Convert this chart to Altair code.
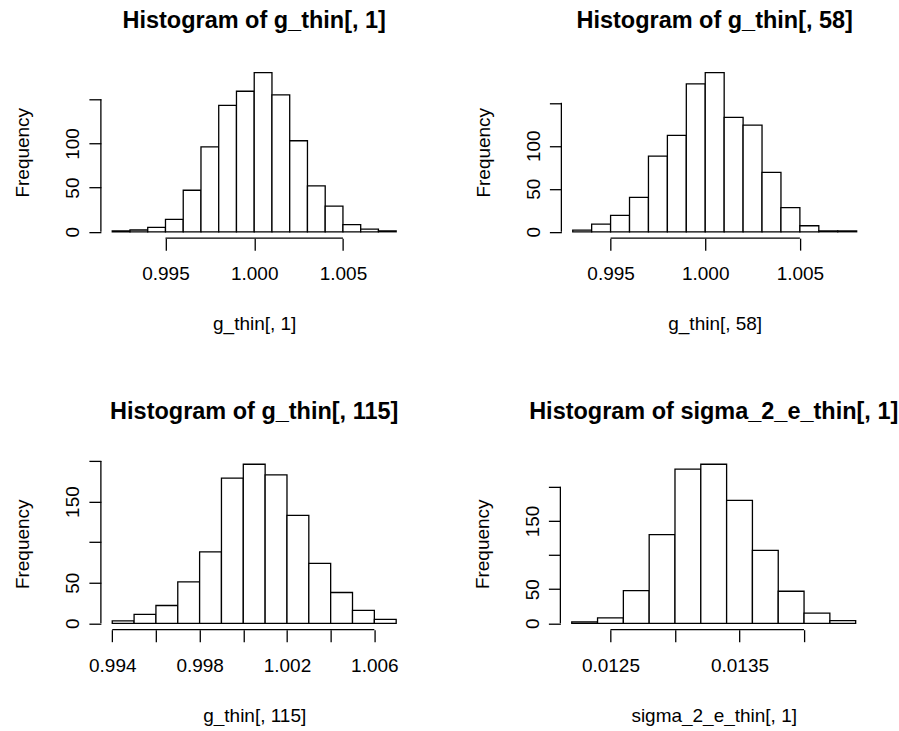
import altair as alt
import pandas as pd

FONT = "Liberation Sans"

# ---- data ----
p1_edges = [0.992, 0.993, 0.994, 0.995, 0.996, 0.997, 0.998, 0.999, 1.000,
            1.001, 1.002, 1.003, 1.004, 1.005, 1.006, 1.007, 1.008]
p1_counts = [1, 2, 5, 14, 47, 96, 143, 159, 180, 155, 103, 52, 29, 8, 3, 1]
p1_xticks = [0.995, 1.000, 1.005]
p1_xlabels = ["0.995", "1.000", "1.005"]
p1_yticks = [0, 50, 100, 150]
p1_ylabels = ["0", "50", "100"]

p2_edges = [0.993, 0.994, 0.995, 0.996, 0.997, 0.998, 0.999, 1.000,
            1.001, 1.002, 1.003, 1.004, 1.005, 1.006, 1.007, 1.008]
p2_counts = [2, 9, 19, 40, 88, 112, 172, 185, 133, 124, 69, 28, 7, 1, 1]
p2_xticks = [0.995, 1.000, 1.005]
p2_xlabels = ["0.995", "1.000", "1.005"]
p2_yticks = [0, 50, 100, 150]
p2_ylabels = ["0", "50", "100"]

p3_edges = [0.994, 0.995, 0.996, 0.997, 0.998, 0.999, 1.000,
            1.001, 1.002, 1.003, 1.004, 1.005, 1.006, 1.007]
p3_counts = [3, 11, 22, 51, 88, 179, 196, 183, 133, 74, 38, 16, 5]
p3_xticks = [0.994, 0.996, 0.998, 1.000, 1.002, 1.004, 1.006]
p3_xlabels = ["0.994", "0.998", "1.002", "1.006"]
p3_yticks = [0, 50, 100, 150, 200]
p3_ylabels = ["0", "50", "150"]

p4_edges = [0.0122, 0.0124, 0.0126, 0.0128, 0.0130, 0.0132, 0.0134,
            0.0136, 0.0138, 0.0140, 0.0142, 0.0144]
p4_counts = [2, 8, 48, 130, 226, 233, 180, 107, 47, 15, 4]
p4_xticks = [0.0125, 0.0130, 0.0135, 0.0140]
p4_xlabels = ["0.0125", "0.0135"]
p4_yticks = [0, 50, 100, 150, 200]
p4_ylabels = ["0", "50", "150"]

titles = ["Histogram of g_thin[, 1]", "Histogram of g_thin[, 58]",
          "Histogram of g_thin[, 115]", "Histogram of sigma_2_e_thin[, 1]"]
xtitles = ["g_thin[, 1]", "g_thin[, 58]", "g_thin[, 115]", "sigma_2_e_thin[, 1]"]

W, H = 307, 172
SW = 1.3
FS = 19


def label_expr(labels):
    cond = " || ".join("datum.label == '%s'" % l for l in labels)
    return "(%s) ? datum.label : ''" % cond


def panel(edges, counts, xticks, xlabels, yticks, ylabels, xfmt, title, xtitle):
    df = pd.DataFrame({"x0": edges[:-1], "x1": edges[1:], "n": counts,
                       "z": [0] * len(counts)})
    r = edges[-1] - edges[0]
    m = max(counts)
    xscale = alt.Scale(domain=[edges[0] - 0.04 * r, edges[-1] + 0.04 * r],
                       nice=False, zero=False)
    yscale = alt.Scale(domain=[-0.04 * m, 1.04 * m], nice=False, zero=False)

    xaxis = alt.Axis(
        values=xticks, format=xfmt, labelExpr=label_expr(xlabels),
        domain=False, grid=False, ticks=True, tickSize=12,
        tickColor="black", tickWidth=SW, labelFontSize=FS,
        labelFont=FONT, labelColor="black", labelPadding=14.5,
        labelFlush=False, labelOverlap=False,
        title=xtitle, titleFont=FONT, titleFontSize=FS,
        titleFontWeight="normal", titleColor="black", titlePadding=31)
    yaxis = alt.Axis(
        values=yticks, labelExpr=label_expr(ylabels),
        domain=False, grid=False, ticks=True, tickSize=12,
        tickColor="black", tickWidth=SW, labelFontSize=FS,
        labelFont=FONT, labelColor="black", labelAngle=-90,
        labelAlign="center", labelBaseline="alphabetic",
        labelPadding=10, labelFlush=False, labelOverlap=False,
        title="Frequency", titleFont=FONT, titleFontSize=FS,
        titleFontWeight="normal", titleColor="black", titlePadding=31)

    bars = alt.Chart(df).mark_bar(fill="white", stroke="black",
                                  strokeWidth=SW).encode(
        x=alt.X("x0:Q", scale=xscale, axis=xaxis),
        x2="x1:Q",
        y=alt.Y("n:Q", scale=yscale, axis=yaxis),
        y2="z:Q",
    )

    xline = alt.Chart(pd.DataFrame({"a": [xticks[0]], "b": [xticks[-1]]})).mark_rule(
        color="black", strokeWidth=SW).encode(
        x=alt.X("a:Q", scale=xscale, axis=xaxis), x2="b:Q", y=alt.value(H))

    yline = alt.Chart(pd.DataFrame({"c": [yticks[0]], "d": [yticks[-1]]})).mark_rule(
        color="black", strokeWidth=SW).encode(
        y=alt.Y("c:Q", scale=yscale, axis=yaxis), y2="d:Q", x=alt.value(0))

    return alt.layer(bars, xline, yline).properties(
        width=W, height=H,
        title=alt.TitleParams(title, font=FONT, fontSize=23.5, fontWeight="bold",
                              color="black", anchor="middle", offset=34))


c1 = panel(p1_edges, p1_counts, p1_xticks, p1_xlabels, p1_yticks, p1_ylabels,
           ".3f", titles[0], xtitles[0])
c2 = panel(p2_edges, p2_counts, p2_xticks, p2_xlabels, p2_yticks, p2_ylabels,
           ".3f", titles[1], xtitles[1])
c3 = panel(p3_edges, p3_counts, p3_xticks, p3_xlabels, p3_yticks, p3_ylabels,
           ".3f", titles[2], xtitles[2])
c4 = panel(p4_edges, p4_counts, p4_xticks, p4_xlabels, p4_yticks, p4_ylabels,
           ".4f", titles[3], xtitles[3])

chart = alt.vconcat(
    alt.hconcat(c1, c2, spacing=66),
    alt.hconcat(c3, c4, spacing=66),
    spacing=66,
).properties(
    padding={"left": 14, "top": 8, "right": 0, "bottom": 0},
    background="white",
).configure_view(stroke=None)

chart.save("out.html", embed_options={"renderer": "svg", "actions": False})
